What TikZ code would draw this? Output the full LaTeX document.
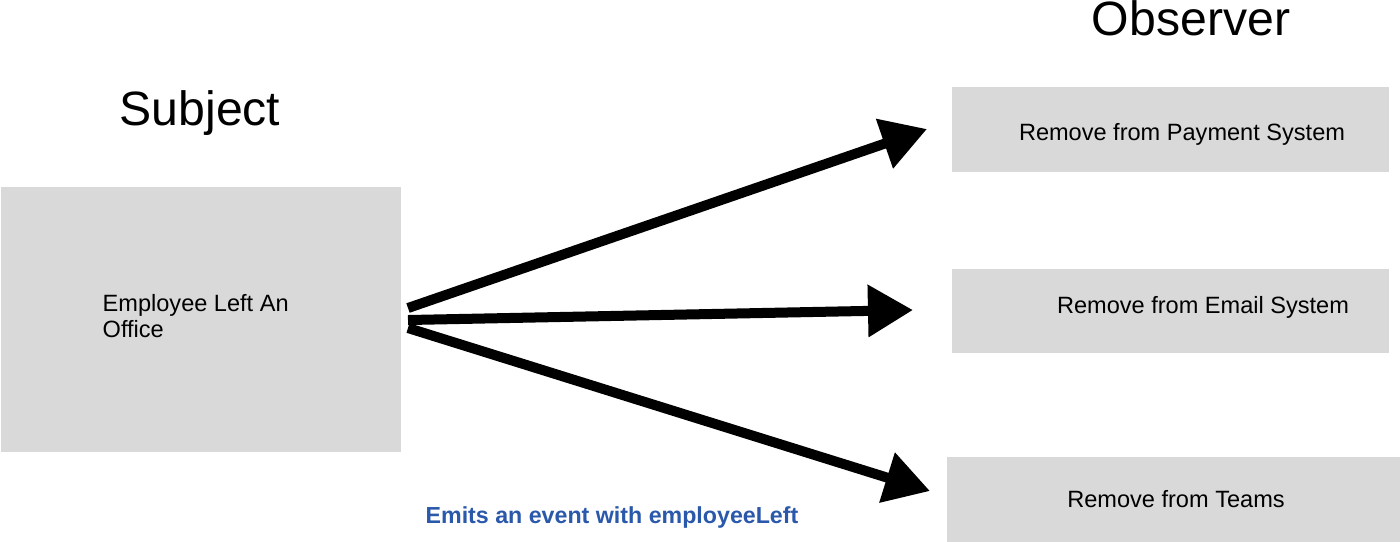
\documentclass[tikz,border=0pt]{standalone}
\usepackage{fontspec}
\setmainfont{Liberation Sans}
\usetikzlibrary{arrows.meta}
\definecolor{boxgray}{RGB}{217,217,217}
\definecolor{emitblue}{RGB}{42,88,170}
\tikzset{
  box/.style={fill=boxgray, inner sep=0pt, anchor=north west},
  title/.style={font=\fontsize{13.7}{16}\selectfont},
  lbl/.style={font=\fontsize{6.7}{7.4}\selectfont, inner sep=0pt},
  notify/.style={line width=0.1cm, -{Triangle[length=0.45cm, width=0.5cm]}},
}
\begin{document}
\begin{tikzpicture}[x=0.01cm, y=-0.01cm]
  \useasboundingbox (0,0) rectangle (1400,541);
  \node [box, minimum width=4cm, minimum height=2.65cm] (subj) at (0,186) {};
  \node [box, minimum width=4.37cm, minimum height=0.85cm] (pay) at (951,86) {};
  \node [box, minimum width=4.37cm, minimum height=0.84cm] (mail) at (951,268) {};
  \node [box, minimum width=4.54cm, minimum height=0.86cm] (teams) at (946,456) {};
  \node [title] (subjtitle) at (200,113) {Subject};
  \node [title] (obstitle) at (1191,18) {Observer};
  \node [lbl, anchor=west, align=left] (subjtext) at (102,316) {Employee Left An\\Office};
  \node [lbl] (paytext) at (1182,134) {Remove from Payment System};
  \node [lbl] (mailtext) at (1203,307) {Remove from Email System};
  \node [lbl] (teamstext) at (1176,499) {Remove from Teams};
  \node [lbl, font=\fontsize{6.6}{8}\selectfont\bfseries, text=emitblue] (emit) at (612,517) {Emits an event with employeeLeft};
  \coordinate (out1) at (408,308);
  \coordinate (out2) at (408,320);
  \coordinate (out3) at (408,328);
  \coordinate (in1) at (927,129);
  \coordinate (in2) at (913,310);
  \coordinate (in3) at (930,491);
  \draw [notify] (out1) -- (in1);
  \draw [notify] (out2) -- (in2);
  \draw [notify] (out3) -- (in3);
\end{tikzpicture}
\end{document}
